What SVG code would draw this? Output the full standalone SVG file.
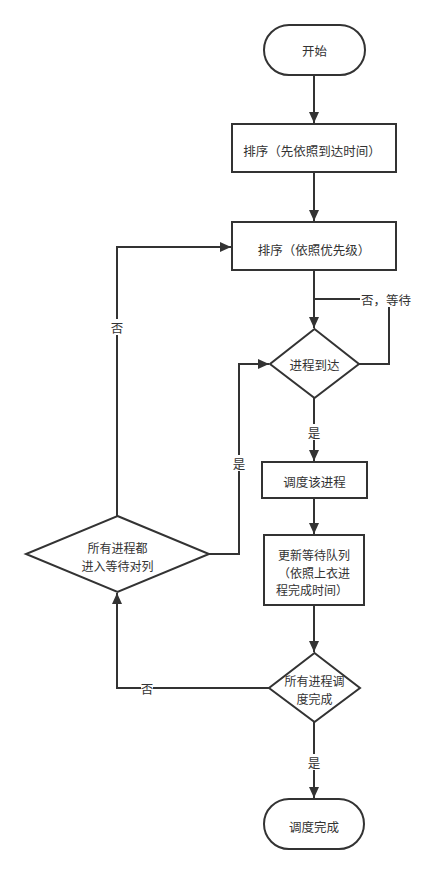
<svg xmlns="http://www.w3.org/2000/svg" width="425" height="874" viewBox="0 0 425 874">
<style>
.s{fill:#fff;stroke:#333;stroke-width:2}
.t{font-family:"Noto Sans CJK SC","Liberation Sans",sans-serif;font-size:12.5px;fill:#333;text-anchor:middle;dominant-baseline:central}
.m{font-size:12px}
.c{fill:none;stroke:#333;stroke-width:2}
.lb{fill:#fff}
</style>
<defs>
<marker id="a" markerUnits="userSpaceOnUse" markerWidth="12" markerHeight="12" refX="11" refY="5" orient="auto" viewBox="0 0 12 10">
<path d="M0,0 L11,5 L0,10 z" fill="#333"/>
</marker>
</defs>
<rect width="425" height="874" fill="#fff"/>
<g id="connectors">
<path class="c" d="M314,75 L314,123" marker-end="url(#a)"/>
<path class="c" d="M314,172 L314,221" marker-end="url(#a)"/>
<path class="c" d="M314,270 L314,328" marker-end="url(#a)"/>
<path class="c" d="M359,364 L389,364 L389,299 L314,299"/>
<path class="c" d="M314,398 L314,461" marker-end="url(#a)"/>
<path class="c" d="M314,498 L314,534" marker-end="url(#a)"/>
<path class="c" d="M314,605 L314,652" marker-end="url(#a)"/>
<path class="c" d="M314,722 L314,798" marker-end="url(#a)"/>
<path class="c" d="M209,554 L239,554 L239,364 L269,364" marker-end="url(#a)"/>
<path class="c" d="M117,516 L117,247 L231,247" marker-end="url(#a)"/>
<path class="c" d="M269,688 L117,688 L117,593" marker-end="url(#a)"/>
<rect class="lb" x="360" y="291" width="52" height="16"/>
<text class="t" x="386" y="299">否，等待</text>
<rect class="lb" x="308" y="424" width="12" height="16"/>
<text class="t" x="314" y="432">是</text>
<rect class="lb" x="233" y="455" width="12" height="16"/>
<text class="t" x="239" y="463">是</text>
<rect class="lb" x="111" y="319" width="12" height="16"/>
<text class="t" x="117" y="327">否</text>
<rect class="lb" x="141" y="680" width="12" height="16"/>
<text class="t" x="147" y="688">否</text>
<rect class="lb" x="308" y="754" width="12" height="16"/>
<text class="t" x="314" y="762">是</text>
</g>
<g id="start">
<rect class="s" x="264" y="25" width="101" height="50" rx="25" ry="25"/>
<text class="t" x="314.5" y="50">开始</text>
</g>
<g id="sort1">
<rect class="s" x="232" y="124" width="164" height="48"/>
<text class="t" x="312" y="150">排序（先依照到达时间）</text>
</g>
<g id="sort2">
<rect class="s" x="232" y="222" width="164" height="48"/>
<text class="t" x="314" y="249">排序（依照优先级）</text>
</g>
<g id="arrive">
<polygon class="s" points="314.5,329 359,364 314.5,398 270,364"/>
<text class="t" x="314.5" y="364">进程到达</text>
</g>
<g id="schedule">
<rect class="s" x="262" y="462" width="105" height="36"/>
<text class="t" x="314.5" y="481">调度该进程</text>
</g>
<g id="update">
<rect class="s" x="264" y="535" width="100" height="70"/>
<text class="t m"><tspan x="314" y="554">更新等待队列</tspan><tspan x="314" y="571.5">（依照上衣进</tspan><tspan x="312" y="589">程完成时间）</tspan></text>
</g>
<g id="allwait">
<polygon class="s" points="117.5,516 209,554 117.5,592 26,554"/>
<text class="t m"><tspan x="117.5" y="546.5">所有进程都</tspan><tspan x="117.5" y="564.5">进入等待对列</tspan></text>
</g>
<g id="alldone">
<polygon class="s" points="314.5,653 360,688 314.5,722 269,688"/>
<text class="t m"><tspan x="314.5" y="680">所有进程调</tspan><tspan x="314.5" y="697.5">度完成</tspan></text>
</g>
<g id="end">
<rect class="s" x="264" y="799" width="100" height="50" rx="25" ry="25"/>
<text class="t" x="314" y="826">调度完成</text>
</g>
</svg>
